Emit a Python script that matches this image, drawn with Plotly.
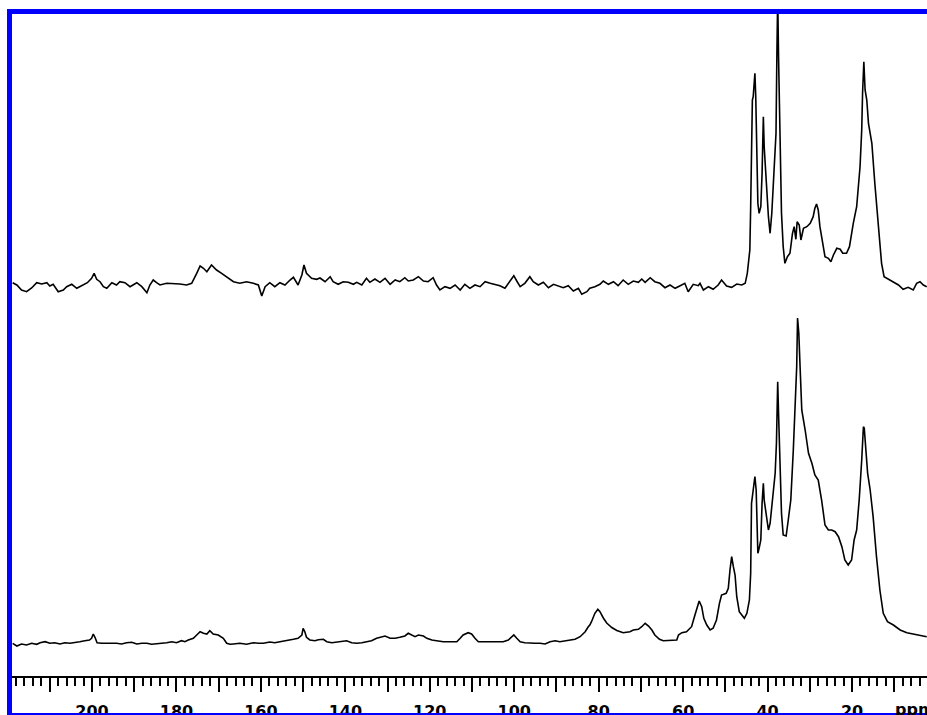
import plotly.graph_objects as go

# 13C spectra: chemical shift (ppm) and intensity above each trace's baseline
TOP_PPM = [
    218.8, 217.8, 216.7, 215.5, 214.3, 213.1, 211.9, 210.7, 210.0, 209.2, 208.0, 206.8, 206.0,
    204.8, 203.6, 202.4, 201.1, 200.1, 199.5, 198.9, 198.1, 197.3, 196.5, 195.3, 194.2, 193.4,
    192.2, 191.0, 190.2, 189.4, 188.2, 187.0, 186.3, 185.5, 184.7, 183.9, 182.3, 180.7, 179.2,
    177.6, 176.4, 175.2, 174.4, 173.6, 172.8, 171.7, 170.5, 169.3, 168.1, 166.5, 165.0, 163.4,
    161.8, 160.6, 159.8, 159.0, 157.9, 156.7, 155.5, 154.3, 153.1, 152.3, 151.2, 150.3, 149.8,
    149.2, 148.0, 146.8, 146.0, 144.8, 143.6, 142.9, 141.7, 140.5, 139.3, 138.1, 137.3, 136.1,
    135.0, 134.2, 133.0, 131.8, 130.6, 129.4, 128.2, 127.1, 125.9, 125.1, 123.9, 122.7, 121.5,
    120.4, 119.2, 118.4, 117.6, 116.4, 115.2, 114.0, 112.8, 111.7, 110.5, 109.3, 108.1, 106.9,
    105.7, 104.6, 103.4, 102.2, 101.4, 100.6, 100.1, 99.4, 98.6, 97.5, 96.3, 95.5, 94.3, 93.1,
    91.9, 90.7, 89.6, 88.4, 87.2, 86.0, 84.8, 84.0, 82.8, 82.1, 80.9, 79.7, 78.9, 77.7, 76.5,
    75.4, 74.2, 73.0, 71.8, 70.6, 69.8, 69.0, 67.8, 66.7, 65.5, 64.3, 63.1, 61.9, 60.7, 59.6,
    58.8, 57.6, 56.4, 56.0, 55.2, 54.0, 52.9, 51.7, 50.9, 50.3, 49.7, 48.5, 47.3, 46.1, 45.3,
    44.8, 44.2, 44.0, 43.6, 43.4, 43.1, 43.0, 42.8, 42.6, 42.3, 42.0, 41.6, 41.3, 41.0, 40.8,
    40.4, 39.8, 39.4, 39.0, 38.5, 38.0, 37.8, 37.6, 37.4, 37.1, 36.7, 36.3, 35.9, 35.3, 34.7,
    34.1, 33.7, 33.3, 33.0, 32.5, 32.1, 31.5, 30.7, 29.9, 29.2, 28.8, 28.4, 28.0, 27.6, 26.8,
    26.4, 25.6, 25.0, 24.4, 23.6, 22.8, 22.2, 21.3, 20.6, 19.7, 18.9, 18.1, 17.7, 17.5, 17.2,
    16.9, 16.5, 16.1, 15.3, 14.6, 13.8, 13.0, 12.4, 11.4, 10.2, 9.0, 7.9, 6.7, 5.5, 4.7, 3.9,
    3.1, 2.3,
]
TOP_INT = [
    4.3, 2.0, -3.0, -4.7, -1.0, 4.3, 3.0, 4.3, 1.0, 2.7, -4.7, -3.0, 0.3,
    2.7, -1.3, 1.0, 4.3, 8.7, 13.7, 7.7, 5.3, 0.3, -1.3, 4.3, 2.0, 5.3,
    4.3, 0.3, 2.0, 4.3, 0.3, -5.7, 2.0, 7.0, 4.3, 2.0, 3.7, 3.7, 3.0,
    2.0, 3.7, 13.7, 21.0, 18.7, 15.3, 22.0, 17.0, 13.7, 10.3, 5.3, 3.7, 5.3,
    3.7, 2.0, -9.0, 0.3, 4.3, 0.3, 4.3, 2.0, 7.0, 9.7, 2.0, 12.0, 22.0,
    13.7, 8.7, 7.7, 9.0, 5.3, 10.3, 5.3, 2.7, 5.3, 4.7, 2.7, 4.7, 2.0,
    8.7, 4.7, 8.0, 4.7, 8.7, 2.7, 7.0, 5.3, 9.3, 6.0, 7.0, 10.3, 6.0,
    5.3, 9.3, 2.0, -3.0, 0.3, -1.3, 2.0, -3.0, 2.7, -1.3, 2.0, 0.3, 5.3,
    3.7, 2.7, 1.3, -1.3, 3.7, 9.3, 11.3, 6.0, 0.3, 3.7, 10.3, 5.3, 2.0, 4.7,
    -0.7, 2.7, 1.3, -0.7, 1.3, -4.0, -1.3, -7.3, -4.7, -1.3, 0.3, 2.7, 6.0, 2.7, 5.3,
    1.3, 7.0, 2.7, 6.0, 4.7, 8.0, 4.7, 9.3, 5.3, 3.7, -0.7, 2.0, -1.3, 1.3, 3.7,
    -4.7, 2.7, 1.3, 3.7, -3.0, 0.3, -2.3, 2.0, 7.0, 3.7, 1.0, -0.3, 3.0, 2.0, 3.7,
    13.7, 37.0, 80.3, 187.0, 190.3, 210.3, 213.7, 190.3, 137.0, 83.7, 73.7, 80.3, 113.7, 170.3, 140.3,
    110.3, 70.3, 53.7, 73.7, 113.7, 153.7, 230.3, 290.0, 230.3, 157.0, 73.7, 40.3, 23.7, 30.3, 33.7,
    53.7, 60.3, 47.7, 65.3, 62.0, 47.0, 58.7, 60.3, 63.7, 70.3, 78.7, 83.0, 77.0, 60.3, 40.3,
    30.3, 28.7, 25.3, 32.0, 38.7, 37.7, 33.7, 33.7, 40.3, 63.7, 80.3, 120.3, 157.0, 193.7, 225.3,
    197.0, 187.0, 163.7, 143.7, 103.7, 60.3, 23.7, 10.3, 7.7, 4.3, 2.0, -2.3, -0.3, -3.0, 3.7, 5.3,
    2.0, 0.3,
]

BOTTOM_PPM = [
    218.8, 217.8, 216.7, 215.5, 214.3, 213.1, 212.3, 211.1, 210.0, 208.8, 207.6, 206.4, 205.2,
    204.0, 202.9, 201.7, 200.6, 200.1, 199.7, 199.3, 198.8, 197.7, 196.5, 195.3, 194.2, 193.0,
    191.8, 190.6, 189.4, 188.2, 187.0, 185.9, 184.7, 183.5, 182.3, 181.1, 180.0, 178.8, 178.0,
    177.2, 176.0, 175.2, 174.4, 173.6, 172.8, 172.1, 171.3, 170.1, 168.9, 168.1, 167.3, 166.5,
    165.0, 163.4, 161.8, 160.6, 159.4, 157.9, 156.7, 155.5, 154.3, 153.1, 152.3, 151.2, 150.3,
    150.0, 149.6, 149.2, 148.4, 147.2, 146.4, 145.2, 144.4, 143.2, 142.1, 140.9, 139.7, 138.5,
    137.3, 136.1, 135.0, 133.8, 132.6, 131.4, 130.6, 129.4, 128.2, 127.1, 125.9, 125.1, 124.3,
    123.5, 122.7, 121.5, 120.7, 119.5, 118.4, 116.8, 115.2, 113.6, 112.8, 112.1, 110.9, 110.1,
    109.3, 108.5, 107.3, 106.2, 105.0, 103.8, 102.6, 101.4, 100.6, 100.1, 99.4, 98.6, 97.5,
    96.3, 95.1, 93.9, 92.7, 91.5, 90.3, 89.2, 88.0, 86.8, 85.6, 84.4, 83.2, 82.5, 82.1, 81.7,
    81.3, 80.9, 80.2, 79.7, 78.9, 78.1, 76.9, 75.7, 74.2, 72.6, 71.8, 70.6, 69.8, 69.0, 68.2,
    67.4, 66.7, 65.6, 64.7, 63.5, 62.3, 61.5, 61.1, 60.3, 59.2, 58.0, 57.2, 56.6, 56.2, 55.6,
    55.1, 54.4, 53.6, 52.9, 52.1, 51.4, 50.9, 49.8, 49.3, 48.9, 48.5, 48.1, 47.7, 47.3, 46.7,
    46.1, 45.5, 44.9, 44.3, 44.0, 43.8, 43.4, 43.0, 42.7, 42.6, 42.3, 42.0, 41.6, 41.3, 41.0,
    40.8, 40.4, 39.8, 39.4, 38.8, 38.2, 37.9, 37.6, 37.4, 37.1, 36.7, 36.3, 35.6, 35.1, 34.5,
    33.9, 33.5, 33.1, 32.9, 32.6, 32.3, 31.9, 31.1, 30.3, 29.5, 28.8, 28.0, 27.2, 26.4, 25.6,
    24.8, 24.0, 23.2, 22.4, 21.7, 20.9, 20.1, 19.5, 18.9, 18.3, 17.7, 17.3, 17.1, 16.8, 16.3,
    15.7, 15.0, 14.2, 13.4, 12.6, 11.6, 10.2, 8.6, 7.0, 5.5, 3.9, 2.3,
]
BOTTOM_INT = [
    -0.3, -3.0, -1.0, -2.0, -0.3, -1.3, 0.3, 1.3, -0.3, 0.3, -1.0, 0.3, -0.3,
    0.3, 1.3, 2.3, 3.0, 4.7, 9.0, 5.7, 0.3, -0.3, -0.3, 0.3, -0.3, -1.0,
    0.3, 0.7, -1.0, -0.3, -0.3, -1.3, -1.0, -0.3, 0.3, 1.3, 0.3, 2.3, 1.3,
    3.0, 4.7, 8.0, 11.3, 9.7, 9.0, 12.3, 9.0, 8.0, 4.7, -0.3, -1.3, -1.0,
    -0.3, -1.3, 0.3, -0.3, -0.3, 1.0, 0.3, 1.3, 2.0, 3.0, 3.7, 4.7, 8.0,
    14.7, 11.3, 5.7, 3.0, 2.3, 3.3, 3.7, 1.3, 0.3, 0.7, 1.3, 2.3, 0.3,
    -0.3, 0.3, 1.3, 2.3, 4.7, 5.7, 7.0, 4.7, 4.7, 5.7, 7.0, 9.7, 8.0,
    6.3, 8.0, 7.0, 4.7, 3.0, 2.3, 1.3, 1.3, 1.3, 4.7, 8.0, 10.3, 9.0,
    4.7, 1.3, 1.3, 1.3, 0.7, 1.3, 1.3, 3.0, 6.3, 8.0, 4.7, 1.3, 0.3,
    -0.3, -0.3, -0.3, -1.0, 1.3, 2.3, 1.3, 2.0, 2.3, 3.7, 6.3, 11.3, 16.0, 18.0, 21.3,
    26.3, 29.7, 33.7, 31.3, 25.0, 20.0, 15.5, 12.5, 10.3, 11.3, 13.0, 13.7, 16.3, 19.7, 17.0,
    13.0, 8.0, 3.7, 2.3, 2.3, 3.0, 3.0, 8.0, 10.3, 11.3, 16.3, 28.0, 38.0, 42.0, 36.3,
    24.7, 18.0, 13.0, 14.7, 23.0, 39.7, 48.0, 49.7, 54.7, 73.0, 86.3, 76.3, 68.0, 46.3, 31.3,
    28.0, 24.7, 29.7, 43.0, 69.7, 139.7, 153.0, 166.3, 153.0, 126.3, 89.7, 94.7, 103.0, 139.7, 159.7,
    143.0, 129.7, 113.0, 119.7, 143.0, 169.7, 199.7, 261.3, 229.7, 176.3, 129.7, 108.0, 107.0, 123.0, 143.0,
    193.0, 243.0, 276.3, 325.0, 309.7, 276.3, 233.0, 213.0, 189.7, 179.7, 168.0, 163.0, 143.0, 118.0, 113.0,
    113.0, 111.3, 106.3, 96.3, 83.0, 78.0, 83.0, 103.0, 113.0, 143.0, 183.0, 216.3, 214.7, 199.7, 169.7,
    153.0, 126.3, 86.3, 53.0, 29.7, 21.3, 18.0, 13.0, 10.3, 9.0, 7.0, 6.3,
]

# Axis ticks: a long tick every 10 ppm, labelled every 20 ppm
TICK_VALUES = [10, 20, 30, 40, 50, 60, 70, 80, 90, 100, 110, 120, 130, 140, 150,
               160, 170, 180, 190, 200, 210]
TICK_LABELS = ["", "20", "", "40", "", "60", "", "80", "", "100", "", "120", "",
               "140", "", "160", "", "180", "", "200", ""]

W, H = 927, 715
ML, MR, MT, MB = 12, 0, 14, 39
PLOT_W = W - ML - MR
PLOT_H = H - MT - MB

# vertical placement of the two stacked traces (plot units = pixels)
TOP_BASE = 389
BOTTOM_BASE = 33

fig = go.Figure()
fig.add_trace(go.Scatter(
    x=TOP_PPM, y=[v + TOP_BASE for v in TOP_INT], mode="lines",
    line=dict(color="black", width=1.6), showlegend=False, hoverinfo="skip"))
fig.add_trace(go.Scatter(
    x=BOTTOM_PPM, y=[v + BOTTOM_BASE for v in BOTTOM_INT], mode="lines",
    line=dict(color="black", width=1.6), showlegend=False, hoverinfo="skip"))

FRAME = "#0000ff"
px = lambda p: (p - ML) / PLOT_W
py = lambda p: (H - MB - p) / PLOT_H
shapes = [
    dict(type="rect", xref="paper", yref="paper", x0=px(7), x1=px(12), y0=py(716), y1=py(9),
         fillcolor=FRAME, line=dict(width=0), layer="above"),
    dict(type="rect", xref="paper", yref="paper", x0=px(7), x1=px(930), y0=py(14), y1=py(9),
         fillcolor=FRAME, line=dict(width=0), layer="above"),
    dict(type="rect", xref="paper", yref="paper", x0=px(7), x1=px(930), y0=py(716), y1=py(713),
         fillcolor=FRAME, line=dict(width=0), layer="above"),
]

fig.update_layout(
    width=W, height=H, autosize=False,
    margin=dict(l=ML, r=MR, t=MT, b=MB, pad=0, autoexpand=False),
    paper_bgcolor="white", plot_bgcolor="white",
    shapes=shapes,
    xaxis=dict(
        range=[218.95, 2.24], showgrid=False, zeroline=False, automargin=False,
        showline=True, linecolor="black", linewidth=2,
        tickmode="array", tickvals=TICK_VALUES, ticktext=TICK_LABELS,
        ticks="outside", ticklen=14, tickwidth=2, tickcolor="black",
        ticklabelstandoff=6,
        tickfont=dict(family="DejaVu Sans", size=16, color="black", weight="bold"),
        minor=dict(ticks="outside", dtick=2, tick0=0, ticklen=8, tickwidth=1.5,
                   tickcolor="black"),
    ),
    yaxis=dict(range=[0, PLOT_H], visible=False, fixedrange=True, automargin=False),
    annotations=[dict(
        text="ppm", xref="paper", yref="paper", x=px(893), y=py(709),
        xanchor="left", yanchor="middle", showarrow=False,
        font=dict(family="DejaVu Sans", size=16, color="black", weight="bold"))],
)

fig.write_html("out.html")
